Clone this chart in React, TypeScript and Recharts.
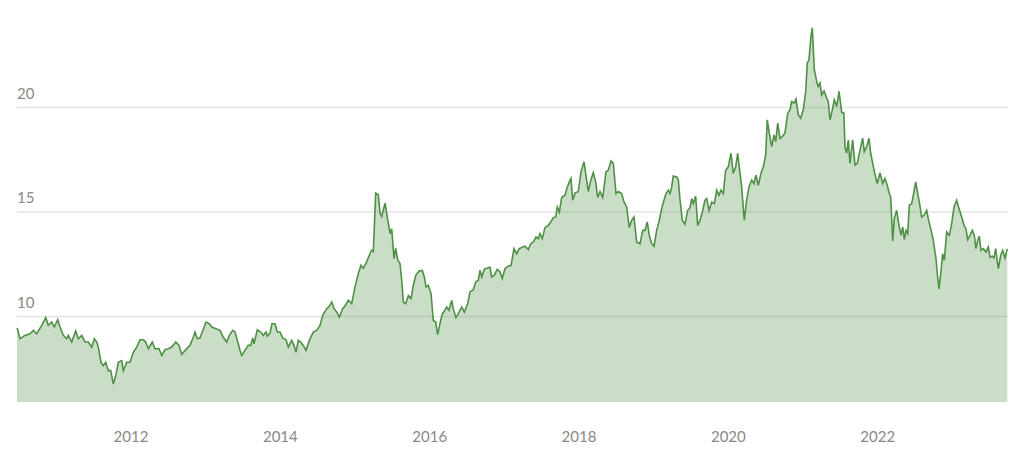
import React from 'react';
import { AreaChart, Area, XAxis, YAxis, CartesianGrid } from 'recharts';

// decimal years
const dates = [
  2010.473, 2010.483, 2010.513, 2010.58, 2010.647, 2010.692, 2010.737, 2010.804, 2010.858, 2010.892,
  2010.938, 2010.973, 2011.018, 2011.049, 2011.093, 2011.139, 2011.16, 2011.206, 2011.259, 2011.294,
  2011.34, 2011.384, 2011.428, 2011.474, 2011.509, 2011.541, 2011.562, 2011.598, 2011.629, 2011.661,
  2011.696, 2011.728, 2011.763, 2011.795, 2011.83, 2011.875, 2011.897, 2011.942, 2011.987, 2012.031,
  2012.076, 2012.121, 2012.165, 2012.197, 2012.232, 2012.285, 2012.321, 2012.375, 2012.411, 2012.455,
  2012.5, 2012.545, 2012.599, 2012.643, 2012.679, 2012.737, 2012.79, 2012.834, 2012.857, 2012.888,
  2012.924, 2012.96, 2013.004, 2013.049, 2013.081, 2013.138, 2013.192, 2013.236, 2013.282, 2013.316,
  2013.362, 2013.393, 2013.424, 2013.46, 2013.482, 2013.527, 2013.571, 2013.603, 2013.63, 2013.647,
  2013.691, 2013.737, 2013.772, 2013.808, 2013.825, 2013.861, 2013.888, 2013.928, 2013.959, 2013.995,
  2014.032, 2014.076, 2014.107, 2014.152, 2014.183, 2014.21, 2014.24, 2014.273, 2014.307, 2014.344,
  2014.388, 2014.441, 2014.487, 2014.531, 2014.567, 2014.621, 2014.656, 2014.688, 2014.719, 2014.755,
  2014.79, 2014.835, 2014.866, 2014.91, 2014.956, 2015.0, 2015.044, 2015.08, 2015.111, 2015.156,
  2015.201, 2015.223, 2015.245, 2015.277, 2015.312, 2015.335, 2015.357, 2015.402, 2015.438, 2015.469,
  2015.491, 2015.522, 2015.545, 2015.572, 2015.602, 2015.625, 2015.647, 2015.679, 2015.714, 2015.75,
  2015.781, 2015.813, 2015.857, 2015.901, 2015.928, 2015.951, 2015.981, 2016.018, 2016.048, 2016.081,
  2016.107, 2016.138, 2016.169, 2016.205, 2016.228, 2016.259, 2016.295, 2016.316, 2016.352, 2016.383,
  2016.429, 2016.464, 2016.509, 2016.54, 2016.584, 2016.616, 2016.651, 2016.674, 2016.697, 2016.731,
  2016.764, 2016.808, 2016.83, 2016.865, 2016.905, 2016.942, 2016.972, 2017.009, 2017.053, 2017.089,
  2017.129, 2017.165, 2017.2, 2017.246, 2017.277, 2017.321, 2017.353, 2017.388, 2017.424, 2017.455,
  2017.477, 2017.508, 2017.544, 2017.588, 2017.621, 2017.655, 2017.688, 2017.709, 2017.736, 2017.768,
  2017.812, 2017.843, 2017.87, 2017.892, 2017.915, 2017.946, 2017.99, 2018.026, 2018.067, 2018.103,
  2018.124, 2018.156, 2018.191, 2018.223, 2018.25, 2018.281, 2018.317, 2018.361, 2018.392, 2018.428,
  2018.459, 2018.495, 2018.526, 2018.571, 2018.602, 2018.638, 2018.673, 2018.705, 2018.736, 2018.772,
  2018.817, 2018.853, 2018.883, 2018.914, 2018.941, 2018.973, 2019.004, 2019.04, 2019.075, 2019.107,
  2019.138, 2019.165, 2019.196, 2019.218, 2019.241, 2019.262, 2019.308, 2019.329, 2019.352, 2019.383,
  2019.419, 2019.455, 2019.486, 2019.509, 2019.53, 2019.562, 2019.589, 2019.62, 2019.651, 2019.687,
  2019.71, 2019.741, 2019.777, 2019.812, 2019.844, 2019.874, 2019.901, 2019.932, 2019.964, 2019.999,
  2020.035, 2020.066, 2020.098, 2020.125, 2020.156, 2020.178, 2020.213, 2020.245, 2020.276, 2020.312,
  2020.343, 2020.37, 2020.401, 2020.437, 2020.468, 2020.5, 2020.521, 2020.548, 2020.58, 2020.611,
  2020.634, 2020.661, 2020.691, 2020.722, 2020.758, 2020.795, 2020.825, 2020.848, 2020.883, 2020.906,
  2020.937, 2020.969, 2021.003, 2021.036, 2021.057, 2021.08, 2021.106, 2021.124, 2021.151, 2021.183,
  2021.204, 2021.227, 2021.25, 2021.281, 2021.317, 2021.338, 2021.361, 2021.392, 2021.419, 2021.451,
  2021.482, 2021.518, 2021.547, 2021.562, 2021.585, 2021.606, 2021.629, 2021.665, 2021.696, 2021.727,
  2021.763, 2021.799, 2021.82, 2021.853, 2021.883, 2021.906, 2021.933, 2021.964, 2021.994, 2022.031,
  2022.067, 2022.097, 2022.128, 2022.155, 2022.174, 2022.201, 2022.222, 2022.254, 2022.285, 2022.312,
  2022.335, 2022.356, 2022.379, 2022.402, 2022.423, 2022.455, 2022.477, 2022.509, 2022.536, 2022.557,
  2022.589, 2022.62, 2022.656, 2022.677, 2022.71, 2022.744, 2022.781, 2022.798, 2022.821, 2022.844,
  2022.87, 2022.892, 2022.924, 2022.959, 2022.991, 2023.022, 2023.058, 2023.089, 2023.125, 2023.156,
  2023.182, 2023.205, 2023.236, 2023.267, 2023.294, 2023.316, 2023.339, 2023.36, 2023.383, 2023.414,
  2023.45, 2023.481, 2023.504, 2023.535, 2023.557, 2023.58, 2023.615, 2023.647, 2023.674, 2023.705,
  2023.735,
];

const values = [
  9.45, 9.36, 8.93, 9.09, 9.17, 9.33, 9.17, 9.57, 9.94, 9.57,
  9.73, 9.49, 9.84, 9.49, 9.09, 8.93, 9.09, 8.77, 9.3, 8.93,
  9.09, 8.77, 8.77, 8.53, 8.93, 8.77, 8.53, 7.8, 7.64, 7.8,
  7.4, 7.4, 6.76, 7.16, 7.8, 7.88, 7.4, 7.8, 7.8, 8.28,
  8.53, 8.88, 8.88, 8.77, 8.45, 8.77, 8.45, 8.45, 8.13, 8.4,
  8.45, 8.53, 8.77, 8.61, 8.18, 8.42, 8.61, 9.0, 9.25, 8.93,
  8.97, 9.3, 9.73, 9.65, 9.49, 9.41, 9.33, 9.0, 8.77, 9.09,
  9.33, 9.25, 8.85, 8.37, 8.13, 8.37, 8.61, 8.61, 8.97, 8.69,
  9.36, 9.25, 9.09, 9.25, 9.05, 9.2, 9.65, 9.65, 9.25, 9.25,
  8.97, 8.88, 8.53, 8.85, 8.61, 8.28, 8.85, 8.77, 8.61, 8.37,
  8.85, 9.25, 9.33, 9.57, 10.05, 10.37, 10.48, 10.69, 10.37, 10.21,
  9.97, 10.37, 10.5, 10.77, 10.61, 11.41, 12.05, 12.45, 12.3, 12.61,
  13.01, 13.17, 13.1, 15.9, 15.82, 14.94, 14.78, 15.42, 14.62, 13.97,
  14.2, 12.77, 13.25, 12.7, 12.53, 11.73, 10.69, 10.61, 11.0, 10.85,
  11.49, 11.97, 12.17, 12.2, 11.89, 11.41, 11.49, 11.09, 9.81, 9.73,
  9.13, 9.65, 10.13, 10.29, 10.45, 10.29, 10.77, 10.37, 9.94, 10.13,
  10.45, 10.21, 10.61, 11.17, 11.28, 11.65, 11.73, 12.21, 11.89, 12.25,
  12.3, 12.35, 11.89, 11.97, 12.25, 12.13, 11.81, 12.29, 12.41, 12.43,
  13.24, 13.0, 13.24, 13.32, 13.36, 13.2, 13.48, 13.56, 13.8, 13.72,
  13.96, 13.72, 14.25, 14.36, 14.52, 14.73, 14.76, 15.24, 15.0, 15.69,
  15.8, 16.2, 16.44, 16.6, 15.56, 15.9, 15.98, 16.92, 17.4, 16.5,
  15.98, 16.5, 16.88, 16.44, 15.69, 15.98, 15.69, 16.92, 17.0, 17.45,
  17.33, 15.88, 15.98, 15.88, 15.48, 15.24, 14.25, 14.6, 14.76, 13.56,
  13.48, 14.12, 14.12, 14.52, 13.88, 13.48, 13.36, 14.12, 14.6, 15.16,
  15.56, 15.88, 16.04, 15.88, 16.2, 16.72, 16.68, 16.55, 15.6, 14.6,
  14.41, 15.08, 15.2, 15.64, 15.4, 15.75, 14.36, 14.6, 15.0, 15.56,
  15.64, 15.08, 15.48, 15.4, 16.04, 15.8, 16.04, 15.88, 17.0, 17.16,
  17.81, 16.85, 17.16, 17.81, 16.85, 16.2, 14.6, 15.56, 16.2, 16.52,
  16.36, 16.76, 16.28, 16.85, 17.16, 17.73, 19.41, 18.77, 18.13, 18.69,
  18.37, 19.25, 18.53, 18.61, 18.77, 19.73, 19.89, 20.29, 20.21, 20.4,
  19.65, 19.49, 19.89, 20.77, 22.13, 22.3, 23.41, 23.82, 21.81, 21.25,
  21.0, 21.17, 20.6, 20.8, 20.45, 20.29, 19.41, 19.89, 20.37, 20.05,
  20.77, 19.77, 19.73, 18.1, 17.81, 18.45, 17.33, 18.45, 17.25, 17.33,
  17.97, 18.53, 17.89, 18.13, 18.53, 17.81, 17.33, 16.8, 16.36, 16.88,
  16.36, 16.6, 16.28, 15.88, 15.72, 13.61, 14.68, 15.08, 14.36, 13.88,
  14.28, 13.68, 14.12, 13.96, 15.32, 15.4, 15.8, 16.44, 15.88, 15.48,
  14.76, 14.84, 15.08, 14.68, 14.2, 13.64, 12.76, 12.04, 11.32, 12.04,
  13.0, 12.68, 14.04, 13.88, 14.44, 15.24, 15.56, 15.16, 14.76, 14.36,
  14.2, 13.68, 13.88, 14.12, 13.88, 13.24, 13.64, 13.84, 13.16, 13.24,
  13.08, 13.32, 12.84, 12.88, 12.8, 13.24, 12.28, 12.92, 13.16, 12.8,
  13.24,
];

const yearTicks = [2012, 2014, 2016, 2018, 2020, 2022];
const valueTicks = [10, 15, 20];

const data = dates.map((t, i) => ({ t, v: values[i] }));

const FONT = 'Lato, "Open Sans", sans-serif';
const LABEL = '#888888';
const GREEN = '#4f9046';
const PLOT_LEFT = 17;

const YTick = (props: any) => {
  const { y, payload } = props;
  return (
    <text x={PLOT_LEFT} y={y - 14} dy="0.35em" textAnchor="start" fill={LABEL} fontSize={15} fontFamily={FONT}>
      {payload.value}
    </text>
  );
};

const XTick = (props: any) => {
  const { x, y, payload } = props;
  return (
    <text x={x} y={y} dy="0.35em" textAnchor="middle" fill={LABEL} fontSize={15} fontFamily={FONT}>
      {payload.value}
    </text>
  );
};

export default function App() {
  return (
    <div style={{ position: 'absolute', left: 0, top: 0, width: 1024, height: 456, background: '#fff' }}>
      <AreaChart width={1024} height={456} data={data} margin={{ top: 24, right: 16, bottom: 0, left: PLOT_LEFT }}>
        <CartesianGrid vertical={false} horizontalValues={valueTicks} stroke="#e4e4e4" strokeWidth={1.5} />
        <XAxis
          dataKey="t"
          type="number"
          domain={[2010.473, 2023.745]}
          ticks={yearTicks}
          axisLine={false}
          tickLine={false}
          tickSize={0}
          tickMargin={35}
          height={54}
          tick={<XTick />}
        />
        <YAxis
          type="number"
          domain={[5.9, 24]}
          ticks={valueTicks}
          width={40}
          mirror
          axisLine={false}
          tickLine={false}
          interval={0}
          tick={<YTick />}
        />
        <Area
          type="linear"
          dataKey="v"
          stroke={GREEN}
          strokeWidth={1.6}
          fill={GREEN}
          fillOpacity={0.3}
          isAnimationActive={false}
          dot={false}
          activeDot={false}
        />
      </AreaChart>
    </div>
  );
}
